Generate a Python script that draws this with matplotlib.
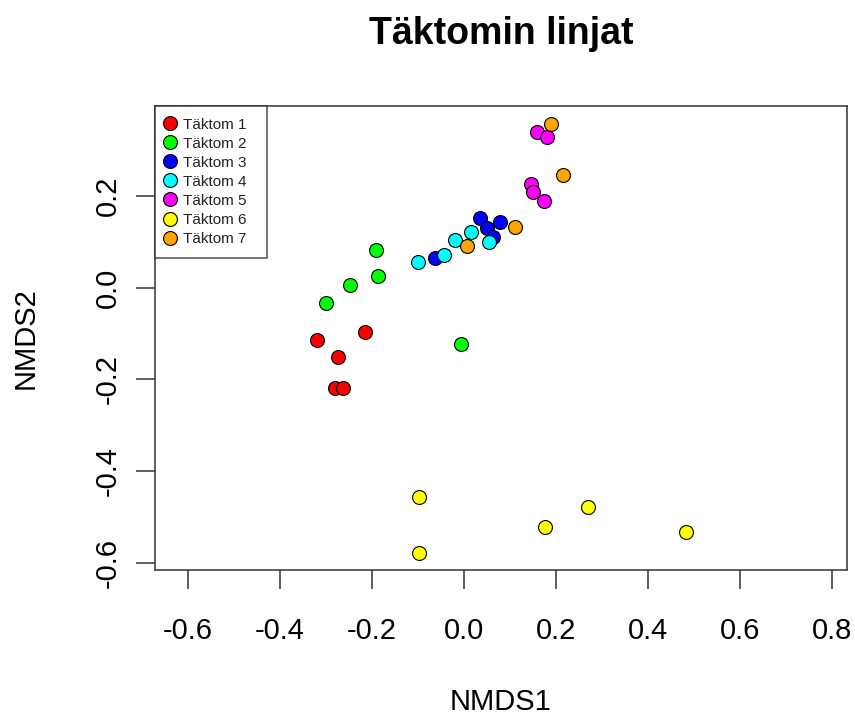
import numpy as np
import matplotlib
matplotlib.use("Agg")
import matplotlib.pyplot as plt

plt.rcParams['font.family'] = ['Liberation Sans', 'DejaVu Sans']
plt.rcParams['axes.unicode_minus'] = False

# NMDS-pisteet linjoittain (luettu kuvasta)
groups = ["Täktom 1", "Täktom 2", "Täktom 3", "Täktom 4",
          "Täktom 5", "Täktom 6", "Täktom 7"]
colors = ["#FF0000", "#00FF00", "#0000FF", "#00FFFF",
          "#FF00FF", "#FFFF00", "#FFA500"]

x1 = [-0.320, -0.215, -0.273, -0.281, -0.263]
y1 = [-0.114, -0.097, -0.151, -0.219, -0.219]
x2 = [-0.191, -0.186, -0.247, -0.300, -0.006]
y2 = [0.081, 0.026, 0.005, -0.034, -0.123]
x3 = [-0.064, 0.034, 0.049, 0.063, 0.078]
y3 = [0.064, 0.151, 0.130, 0.111, 0.143]
x4 = [-0.100, -0.044, -0.020, 0.016, 0.055]
y4 = [0.055, 0.072, 0.104, 0.121, 0.100]
x5 = [0.158, 0.181, 0.146, 0.151, 0.175]
y5 = [0.340, 0.329, 0.226, 0.209, 0.188]
x6 = [-0.098, -0.098, 0.177, 0.270, 0.482]
y6 = [-0.457, -0.579, -0.523, -0.479, -0.534]
x7 = [0.007, 0.112, 0.216, 0.190]
y7 = [0.091, 0.133, 0.245, 0.357]

xs = [x1, x2, x3, x4, x5, x6, x7]
ys = [y1, y2, y3, y4, y5, y6, y7]

xticks = [-0.6, -0.4, -0.2, 0.0, 0.2, 0.4, 0.6, 0.8]
yticks = [-0.6, -0.4, -0.2, 0.0, 0.2]

fig = plt.figure(figsize=(8.55, 7.15), dpi=100)
ax = fig.add_axes([0.1813, 0.2028, 0.8093, 0.6489])

for xx, yy, c, g in zip(xs, ys, colors, groups):
    ax.plot(xx, yy, 'o', ms=10, mfc=c, mec='black', mew=0.8, label=g)

ax.set_xlim(-0.672, 0.833)
ax.set_ylim(-0.616, 0.396)
ax.set_xticks(xticks)
ax.set_xticklabels(["%.1f" % v for v in xticks])
ax.set_yticks(yticks)
ax.set_yticklabels(["%.1f" % v for v in yticks], rotation=90, va='center')

for s in ax.spines.values():
    s.set_color('#333333')
    s.set_linewidth(1.1)
ax.tick_params(axis='both', length=14, width=1.1, color='#333333', labelsize=21)
ax.tick_params(axis='x', pad=20)
ax.tick_params(axis='y', pad=10)

ax.set_xlabel("NMDS1", fontsize=21, labelpad=31)
ax.set_ylabel("NMDS2", fontsize=21, labelpad=39)
ax.set_title("Täktomin linjat", fontsize=27, fontweight='bold', pad=45)

# legenda vasempaan ylakulmaan, leveys kuten R:ssa
leg = ax.legend(loc='upper left', bbox_to_anchor=(0, 0, 0.162, 1.0),
                mode='expand', borderaxespad=0,
                fontsize=11, frameon=True, fancybox=False, labelspacing=0.33,
                handlelength=0.4, handletextpad=0.65, borderpad=0.76)
leg.get_frame().set_edgecolor('#222222')
leg.get_frame().set_linewidth(1.1)
for t in leg.get_texts():
    t.set_color('#222222')

fig.savefig("out.png", dpi=100)
